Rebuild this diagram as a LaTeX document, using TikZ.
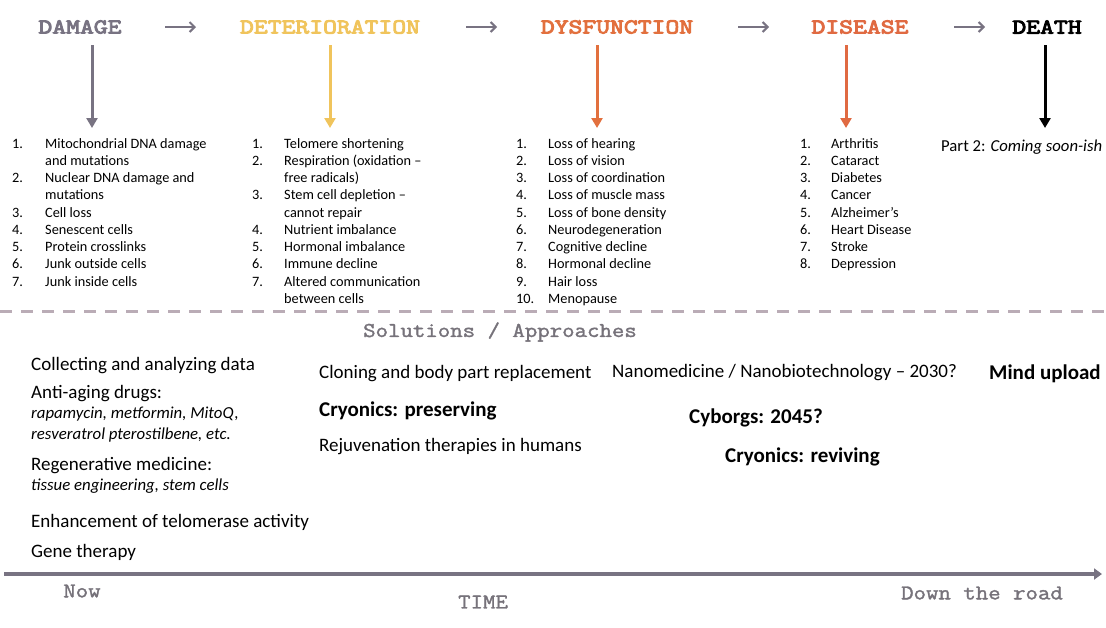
\documentclass[tikz,border=0pt]{standalone}
\usepackage{fontspec}
\setmainfont{Carlito}
\newfontfamily\headfont[FakeStretch=1.28, FakeBold=4.5]{Latin Modern Mono}
\newfontfamily\monofont[FakeStretch=1.15, FakeBold=1.6]{Latin Modern Mono}
\usetikzlibrary{arrows.meta}
\usepackage{xcolor}
\definecolor{damagecol}{RGB}{120,115,130}
\definecolor{deteriorcol}{RGB}{240,196,92}
\definecolor{dysfuncol}{RGB}{226,112,62}
\definecolor{diseasecol}{RGB}{224,106,66}
\definecolor{dashcol}{RGB}{186,172,182}
\definecolor{solcol}{RGB}{118,114,122}

\begin{document}
\begin{tikzpicture}[x=1pt, y=-1pt, every node/.style={inner sep=0pt},
  head/.style={font=\headfont\fontsize{21}{21}\selectfont},
  listbox/.style={anchor=base west, font=\fontsize{14.3}{17.25}\selectfont},
  soltext/.style={anchor=base west, font=\fontsize{19}{21}\selectfont},
  solsub/.style={anchor=base west, font=\fontsize{16.8}{18}\selectfont\itshape},
  solbold/.style={anchor=base west, font=\fontsize{21}{22}\selectfont\bfseries},
  timetext/.style={text=solcol, font=\monofont\fontsize{21}{21}\selectfont},
  downarrow/.style={line width=3pt, -{Triangle[length=10pt,width=11pt]}},
  nextarrow/.style={line width=2pt, damagecol, -{Straight Barb[length=5pt,width=10pt]}}]
  \useasboundingbox (0,0) rectangle (1106,627);

  % stages across the top
  \node[head, text=damagecol] (damage) at (80,27) {DAMAGE};
  \node[head, text=deteriorcol] (deterior) at (330,27) {DETERIORATION};
  \node[head, text=dysfuncol] (dysfun) at (617,27) {DYSFUNCTION};
  \node[head, text=diseasecol] (disease) at (860,27) {DISEASE};
  \node[head, text=black] (death) at (1047,27) {DEATH};

  % arrows between stages
  \coordinate (n1a) at (165,27); \coordinate (n1b) at (196,27);
  \coordinate (n2a) at (466,27); \coordinate (n2b) at (497,27);
  \coordinate (n3a) at (738,27); \coordinate (n3b) at (769,27);
  \coordinate (n4a) at (954,27); \coordinate (n4b) at (985,27);
  \draw[nextarrow] (n1a) -- (n1b);
  \draw[nextarrow] (n2a) -- (n2b);
  \draw[nextarrow] (n3a) -- (n3b);
  \draw[nextarrow] (n4a) -- (n4b);

  % lists under each stage
  \node[listbox] (damagelist) at (12,148) {\begin{tabular}[t]{@{}p{33pt}@{}l@{}}
    1. & Mitochondrial DNA damage\\
       & and mutations\\
    2. & Nuclear DNA damage and\\
       & mutations\\
    3. & Cell loss\\
    4. & Senescent cells\\
    5. & Protein crosslinks\\
    6. & Junk outside cells\\
    7. & Junk inside cells
  \end{tabular}};
  \node[listbox] (deteriorlist) at (252,148) {\begin{tabular}[t]{@{}p{32pt}@{}l@{}}
    1. & Telomere shortening\\
    2. & Respiration (oxidation --\\
       & free radicals)\\
    3. & Stem cell depletion --\\
       & cannot repair\\
    4. & Nutrient imbalance\\
    5. & Hormonal imbalance\\
    6. & Immune decline\\
    7. & Altered communication\\
       & between cells
  \end{tabular}};
  \node[listbox] (dysfunlist) at (516,148) {\begin{tabular}[t]{@{}p{32pt}@{}l@{}}
    1. & Loss of hearing\\
    2. & Loss of vision\\
    3. & Loss of coordination\\
    4. & Loss of muscle mass\\
    5. & Loss of bone density\\
    6. & Neurodegeneration\\
    7. & Cognitive decline\\
    8. & Hormonal decline\\
    9. & Hair loss\\
    10. & Menopause
  \end{tabular}};
  \node[listbox] (diseaselist) at (800,148) {\begin{tabular}[t]{@{}p{31pt}@{}l@{}}
    1. & Arthritis\\
    2. & Cataract\\
    3. & Diabetes\\
    4. & Cancer\\
    5. & Alzheimer's\\
    6. & Heart Disease\\
    7. & Stroke\\
    8. & Depression
  \end{tabular}};
  \node[listbox, font=\fontsize{16.7}{18}\selectfont] (deathnote) at (941,151) {Part 2: \textit{Coming soon-ish}};

  % arrows down to the lists
  \coordinate (d1a) at (92,45);   \coordinate (d1b) at (92,128);
  \coordinate (d2a) at (330,45);  \coordinate (d2b) at (330,128);
  \coordinate (d3a) at (597,45);  \coordinate (d3b) at (597,128);
  \coordinate (d4a) at (846,45);  \coordinate (d4b) at (846,128);
  \coordinate (d5a) at (1045,45); \coordinate (d5b) at (1045,128);
  \draw[downarrow, damagecol] (d1a) -- (d1b);
  \draw[downarrow, deteriorcol] (d2a) -- (d2b);
  \draw[downarrow, dysfuncol] (d3a) -- (d3b);
  \draw[downarrow, diseasecol] (d4a) -- (d4b);
  \draw[downarrow, black] (d5a) -- (d5b);

  % divider
  \coordinate (divl) at (0,311); \coordinate (divr) at (1106,311);
  \draw[dashcol, line width=3pt, dash pattern=on 12pt off 9pt] (divl) -- (divr);
  \node[text=solcol, font=\monofont\fontsize{21}{21}\selectfont] (soltitle) at (500,332) {Solutions / Approaches};

  % solutions, now
  \node[soltext] (collect) at (31,370) {Collecting and analyzing data};
  \node[soltext] (antiaging) at (31,398) {Anti-aging drugs:};
  \node[solsub] (drugs1) at (31,418) {rapamycin, metformin, MitoQ,};
  \node[solsub] (drugs2) at (31,439) {resveratrol pterostilbene, etc.};
  \node[soltext] (regen) at (31,470) {Regenerative medicine:};
  \node[solsub] (tissue) at (31,490) {tissue engineering, stem cells};
  \node[soltext] (telomer) at (31,527) {Enhancement of telomerase activity};
  \node[soltext] (gene) at (31,557) {Gene therapy};

  % solutions, later
  \node[soltext] (cloning) at (319,378) {Cloning and body part replacement};
  \node[solbold] (cryopres) at (319,416) {Cryonics: preserving};
  \node[soltext] (rejuv) at (319,451) {Rejuvenation therapies in humans};
  \node[soltext] (nano) at (612,377) {Nanomedicine / Nanobiotechnology -- 2030?};
  \node[solbold] (mind) at (989,379) {Mind upload};
  \node[solbold] (cyborg) at (689,423) {Cyborgs: 2045?};
  \node[solbold] (cryorev) at (725,462) {Cryonics: reviving};

  % time axis
  \coordinate (tstart) at (4,574); \coordinate (tend) at (1102,574);
  \draw[damagecol, line width=4pt, -{Triangle[length=8pt,width=11pt]}] (tstart) -- (tend);
  \node[timetext] (now) at (82,591) {Now};
  \node[timetext] (time) at (483,602) {TIME};
  \node[timetext] (road) at (982,593) {Down the road};
\end{tikzpicture}
\end{document}
